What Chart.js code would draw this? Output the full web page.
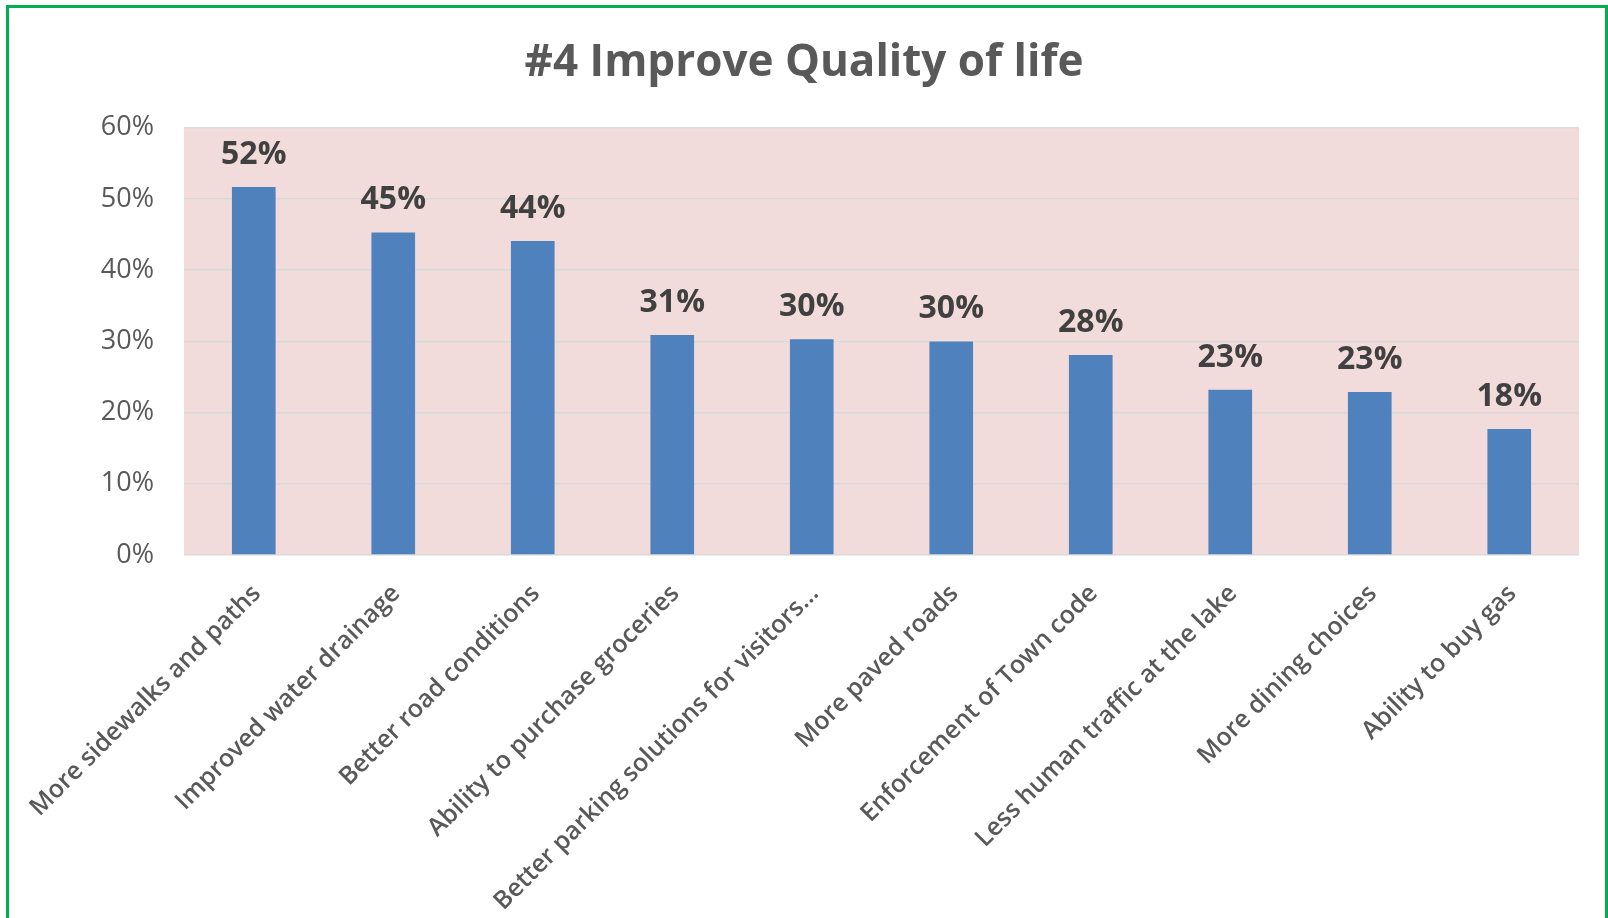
<!DOCTYPE html>
<html>
<head>
<meta charset="utf-8">
<title>#4 Improve Quality of life</title>
<script src="https://cdn.jsdelivr.net/npm/chart.js@4.4.1/dist/chart.umd.min.js"></script>
<style>
  html, body { margin: 0; padding: 0; background: #fff; overflow: hidden; }
  #wrap { position: relative; width: 1608px; height: 918px; }
  #frame {
    position: absolute; left: 6px; top: 5px; width: 1596px; height: 960px;
    border: 3px solid #00B050; pointer-events: none;
  }
</style>
</head>
<body>
<div id="wrap">
  <canvas id="bar-chart" width="1608" height="918"></canvas>
  <div id="frame"></div>
</div>
<script>
// survey answers, share of respondents
var categories = [
  "More sidewalks and paths",
  "Improved water drainage",
  "Better road conditions",
  "Ability to purchase groceries",
  "Better parking solutions for visitors\u2026",
  "More paved roads",
  "Enforcement of Town code",
  "Less human traffic at the lake",
  "More dining choices",
  "Ability to buy gas"
];
var shares = [0.517, 0.453, 0.441, 0.309, 0.303, 0.300, 0.281, 0.232, 0.229, 0.177];
var yTicks = [0, 0.1, 0.2, 0.3, 0.4, 0.5, 0.6];

var pct = function(v) { return Math.round(v * 100) + '%'; };

// pink plot area like the excel chart
var plotBg = {
  id: 'plotBg',
  beforeDraw: function(chart) {
    var a = chart.chartArea, ctx = chart.ctx;
    ctx.save();
    ctx.fillStyle = '#F2DCDB';
    ctx.fillRect(a.left, a.top, a.right - a.left, a.bottom - a.top);
    ctx.restore();
  }
};

// value labels over the bars
var barLabels = {
  id: 'barLabels',
  afterDatasetsDraw: function(chart) {
    var ctx = chart.ctx;
    var meta = chart.getDatasetMeta(0);
    ctx.save();
    ctx.font = 'bold 32px "Open Sans"';
    ctx.fillStyle = '#404040';
    ctx.textAlign = 'center';
    ctx.textBaseline = 'alphabetic';
    meta.data.forEach(function(bar, i) {
      ctx.fillText(pct(shares[i]), bar.x, bar.y - 23);
    });
    ctx.restore();
  }
};

new Chart(document.getElementById("bar-chart"), {
  type: 'bar',
  data: {
    labels: categories,
    datasets: [{
      data: shares,
      backgroundColor: '#4F81BD',
      categoryPercentage: 1,
      barPercentage: 0.313
    }]
  },
  options: {
    responsive: false,
    animation: false,
    layout: { padding: 0 },
    plugins: {
      legend: { display: false },
      tooltip: { enabled: false },
      title: {
        display: true,
        text: '#4 Improve Quality of life',
        color: '#595959',
        font: { family: 'Open Sans', size: 44, weight: 'bold', lineHeight: 1.2 },
        padding: { top: 37, bottom: 38 }
      }
    },
    scales: {
      x: {
        grid: { display: false },
        border: { display: false },
        ticks: {
          autoSkip: false,
          maxRotation: 45,
          minRotation: 45,
          padding: 16,
          labelOffset: 3,
          color: '#595959',
          font: { family: 'Open Sans', size: 25, weight: '600' }
        },
        afterFit: function(scale) { scale.height = 363; }
      },
      y: {
        min: 0,
        max: 0.6,
        afterBuildTicks: function(scale) {
          scale.ticks = yTicks.map(function(v) { return { value: v }; });
        },
        grid: { color: '#D9D9D9', lineWidth: 1.5, drawTicks: false },
        border: { display: false },
        ticks: {
          padding: 30,
          color: '#595959',
          font: { family: 'Open Sans', size: 27 },
          callback: function(v) { return pct(v); }
        },
        afterFit: function(scale) { scale.width = 184; }
      },
      // empty strip on the right so the title stays centred on the page
      yRight: {
        position: 'right',
        grid: { display: false },
        border: { display: false },
        ticks: { display: false },
        afterFit: function(scale) { scale.width = 29; }
      }
    }
  },
  plugins: [plotBg, barLabels]
});
</script>
</body>
</html>
